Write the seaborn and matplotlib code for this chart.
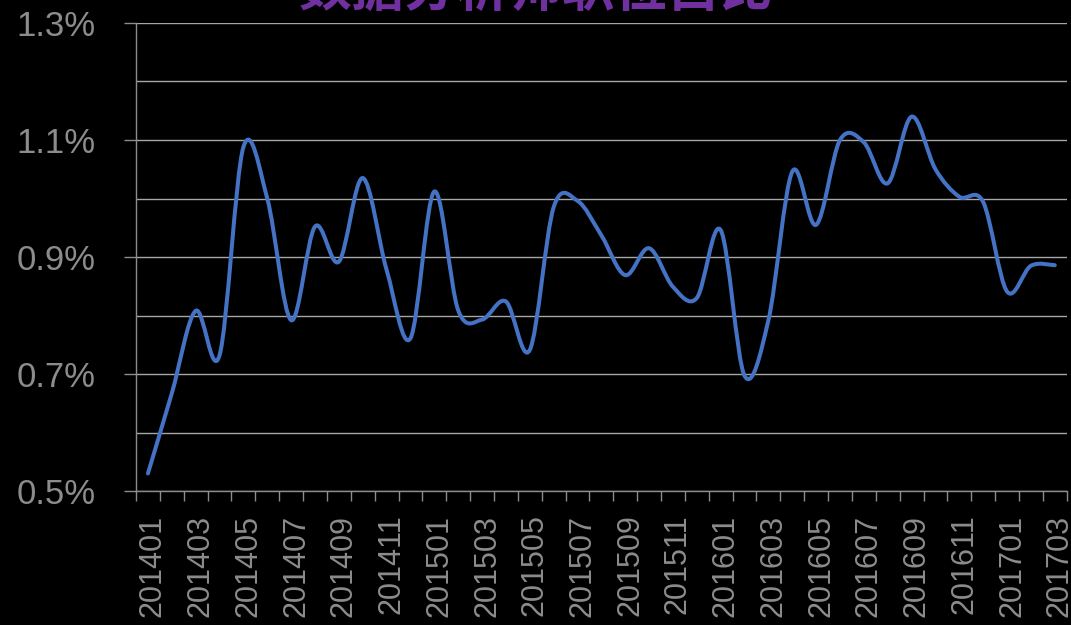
import numpy as np
import matplotlib
matplotlib.use("Agg")
import matplotlib.pyplot as plt
import matplotlib.transforms as mtransforms
from matplotlib.path import Path
from matplotlib.patches import PathPatch
from matplotlib.ticker import FixedLocator, FuncFormatter
import seaborn as sns

# ---------------------------------------------------------------------------
# Data (share of data-analyst positions, %)
# ---------------------------------------------------------------------------
TITLE = "数据分析师职位占比"
MONTHS = [
    "201401", "201402", "201403", "201404", "201405", "201406", "201407",
    "201408", "201409", "201410", "201411", "201412", "201501", "201502",
    "201503", "201504", "201505", "201506", "201507", "201508", "201509",
    "201510", "201511", "201512", "201601", "201602", "201603", "201604",
    "201605", "201606", "201607", "201608", "201609", "201610", "201611",
    "201612", "201701", "201702", "201703",
]
SHARE = [
    0.530, 0.667, 0.808, 0.732, 1.088, 1.000, 0.792, 0.952, 0.892, 1.035,
    0.878, 0.761, 1.012, 0.809, 0.793, 0.824, 0.741, 0.985, 0.996, 0.937,
    0.869, 0.915, 0.849, 0.830, 0.946, 0.697, 0.792, 1.046, 0.955, 1.100,
    1.096, 1.026, 1.140, 1.050, 1.003, 0.994, 0.841, 0.885, 0.886,
]

# Style
GRID = "#a6a6a6"
AXIS = "#8c8c8c"
TEXT = "#8c8c8c"
LINE = "#4472C4"
PURPLE = "#7030A0"

sns.set_theme(style="dark", rc={
    "figure.facecolor": "black",
    "axes.facecolor": "black",
    "savefig.facecolor": "black",
})
plt.rcParams["font.family"] = ["Liberation Sans", "DejaVu Sans"]


def smooth_path(xs, ys):
    """Excel-style smoothed line: cubic Bezier segments through every point."""
    pts = np.column_stack([xs, ys])
    verts = [pts[0]]
    codes = [Path.MOVETO]
    n = len(pts)
    for i in range(n - 1):
        p0 = pts[max(i - 1, 0)]
        p1 = pts[i]
        p2 = pts[i + 1]
        p3 = pts[min(i + 2, n - 1)]
        c1 = p1 + (p2 - p0) / 6.0
        c2 = p2 - (p3 - p1) / 6.0
        verts += [c1, c2, p2]
        codes += [Path.CURVE4] * 3
    return Path(verts, codes)


fig = plt.figure(figsize=(10.71, 6.25), dpi=100)
ax = fig.add_axes([0.127, 0.2144, 0.869, 0.7488])

x = np.arange(len(MONTHS))
ax.add_patch(PathPatch(smooth_path(x, SHARE), facecolor="none",
                       edgecolor=LINE, lw=2.9, capstyle="round",
                       joinstyle="round", zorder=3))

ax.set_xlim(-0.5, len(MONTHS) - 0.5)
ax.set_ylim(0.5, 1.3)

# y axis: labels every 0.2, gridlines every 0.1
ax.yaxis.set_major_locator(FixedLocator(np.linspace(0.5, 1.3, 5)))
ax.yaxis.set_minor_locator(FixedLocator(np.linspace(0.5, 1.3, 9)))
ax.yaxis.set_major_formatter(FuncFormatter(lambda v, _: f"{v:.1f}%"))
ax.grid(axis="y", which="both", color=GRID, lw=1.0)
ax.grid(axis="x", visible=False)
ax.tick_params(axis="y", which="major", left=True, length=9, width=1,
               color=AXIS, direction="out", pad=20, labelsize=25,
               labelcolor=TEXT)
ax.tick_params(axis="y", which="minor", length=0)

# x axis: marks between categories, labels every other month
ax.set_xticks(x[::2])
ax.set_xticklabels(MONTHS[::2], rotation=90)
ax.xaxis.set_minor_locator(FixedLocator(np.arange(-0.5, len(MONTHS), 1.0)))
ax.tick_params(axis="x", which="major", length=0, pad=17, labelsize=22,
               labelcolor=TEXT)
ax.tick_params(axis="x", which="minor", bottom=True, length=7.5, width=1,
               color=AXIS, direction="out")
shift = mtransforms.ScaledTranslation(5 / 100, 0, fig.dpi_scale_trans)
for lbl in ax.get_xticklabels():
    lbl.set_verticalalignment("top")
    lbl.set_transform(lbl.get_transform() + shift)

for side in ["top", "right"]:
    ax.spines[side].set_visible(False)
for side in ["left", "bottom"]:
    ax.spines[side].set_color(AXIS)
    ax.spines[side].set_linewidth(1.0)

fig.text(536 / 1071, 1.016, TITLE, ha="center", va="center",
         fontsize=38, fontweight="bold", color=PURPLE,
         family=["Noto Sans CJK SC", "DejaVu Sans"])

fig.savefig("out.png", dpi=100, facecolor="black")
